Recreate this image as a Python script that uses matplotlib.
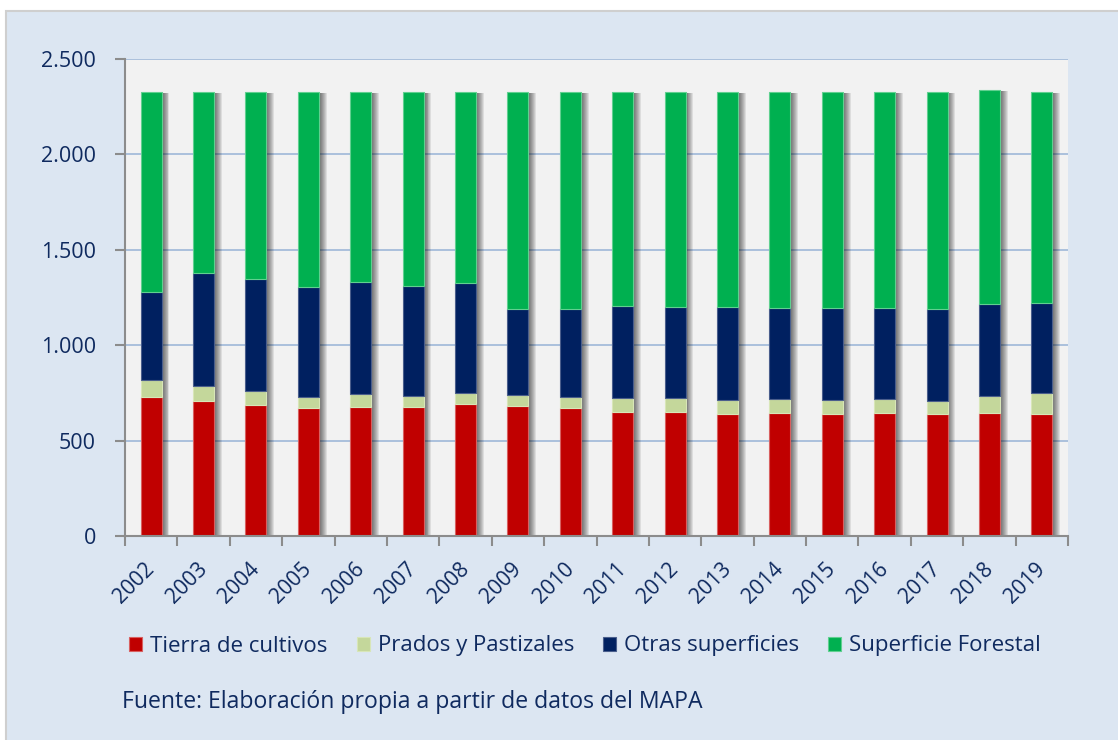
import matplotlib
matplotlib.use("Agg")
import matplotlib.pyplot as plt
import matplotlib.patheffects as pe
import matplotlib.transforms as mtransforms
from matplotlib.patches import Rectangle
import numpy as np

years = [str(y) for y in range(2002, 2020)]
cultivos = [728, 709, 688, 669, 678, 676, 690, 681, 672, 651, 648, 639, 643, 641, 644, 641, 643, 639]
prados = [88, 77, 70, 58, 65, 57, 57, 59, 56, 72, 75, 73, 73, 71, 72, 68, 89, 110]
otras = [464, 590, 587, 576, 586, 576, 577, 447, 463, 480, 478, 487, 480, 484, 480, 482, 483, 473]
forestal = [1046, 950, 981, 1023, 997, 1015, 1002, 1139, 1135, 1123, 1125, 1127, 1130, 1130, 1130, 1135, 1121, 1104]
series_names = ["Tierra de cultivos", "Prados y Pastizales", "Otras superficies", "Superficie Forestal"]
yticks = [0, 500, 1000, 1500, 2000, 2500]
ytick_labels = ["0", "500", "1.000", "1.500", "2.000", "2.500"]
source = "Fuente: Elaboración propia a partir de datos del MAPA"

colors = ["#C00000", "#C4D79B", "#002060", "#00B050"]
edges = ["#D86060", "#D8E6B8", "#4A5E8C", "#60D090"]
text_color = "#0F2A5F"
axis_gray = "#8C8C8C"

plt.rcParams['font.family'] = ['Open Sans', 'DejaVu Sans']

fig = plt.figure(figsize=(11.18, 7.4), dpi=100, facecolor="white")
bg = Rectangle((6 / 1118, -0.01), 1.02, (740 - 11) / 740 + 0.01,
               transform=fig.transFigure, facecolor="#DCE6F2",
               edgecolor="#CFCFCF", linewidth=1.5, zorder=-10)
fig.patches.append(bg)

ax = fig.add_axes([125 / 1118, 1 - 536 / 740, (1068 - 125) / 1118, (536 - 58.7) / 740])
ax.set_zorder(1)
ax.set_facecolor("#F2F2F2")

x = np.arange(len(years))
w = 0.4
data = [cultivos, prados, otras, forestal]
totals = np.sum(np.array(data), axis=0)

# soft drop shadow to the right of each stacked bar
shadow_effects = [pe.SimplePatchShadow(offset=(d, -0.7), shadow_rgbFace="black", alpha=0.085)
                  for d in [0.7, 1.4, 2.1, 2.8, 3.5, 4.2, 4.9, 5.6]]
ax.bar(x, totals, w, color="none", edgecolor="none", zorder=2, path_effects=shadow_effects)

bottom = np.zeros(len(years))
for vals, c, ec, name in zip(data, colors, edges, series_names):
    ax.bar(x, vals, w, bottom=bottom, color=c, edgecolor=ec, linewidth=0.8, label=name, zorder=3)
    bottom += np.array(vals)

ax.set_xlim(-0.5, len(years) - 0.5)
ax.set_ylim(0, 2500)
ax.set_yticks(yticks)
ax.set_yticklabels(ytick_labels)
ax.yaxis.grid(True, color="#A5BCDA", linewidth=1.3, zorder=1)
ax.set_axisbelow(True)

ax.set_xticks(x)
ax.set_xticklabels(years, rotation=45, ha="right", rotation_mode="anchor")
ax.set_xticks(np.arange(-0.5, len(years)), minor=True)
ax.tick_params(axis="x", which="major", length=0, pad=14, labelsize=15.2, labelcolor=text_color)
ax.tick_params(axis="x", which="minor", length=7, width=1.5, color=axis_gray)
ax.tick_params(axis="y", length=7, width=1.5, color=axis_gray, pad=14, labelsize=15.5, labelcolor=text_color)

offset = mtransforms.ScaledTranslation(-7 / 100, -3 / 100, fig.dpi_scale_trans)
for lbl in ax.get_xticklabels():
    lbl.set_transform(lbl.get_transform() + offset)

for s in ["top", "right"]:
    ax.spines[s].set_visible(False)
for s in ["left", "bottom"]:
    ax.spines[s].set_color(axis_gray)
    ax.spines[s].set_linewidth(1.5)
    ax.spines[s].set_zorder(4)

handles, labels = ax.get_legend_handles_labels()
fig.legend(handles, labels, loc="center", bbox_to_anchor=(585 / 1118, 1 - 646 / 740), ncol=4,
           frameon=False, fontsize=16, handlelength=0.6, handleheight=0.6,
           handletextpad=0.35, columnspacing=1.3, labelcolor=text_color)

fig.text(122 / 1118, 1 - 702 / 740, source, ha="left", va="center", fontsize=16.6, color=text_color)

fig.savefig("out.png", dpi=100, facecolor=fig.get_facecolor())
